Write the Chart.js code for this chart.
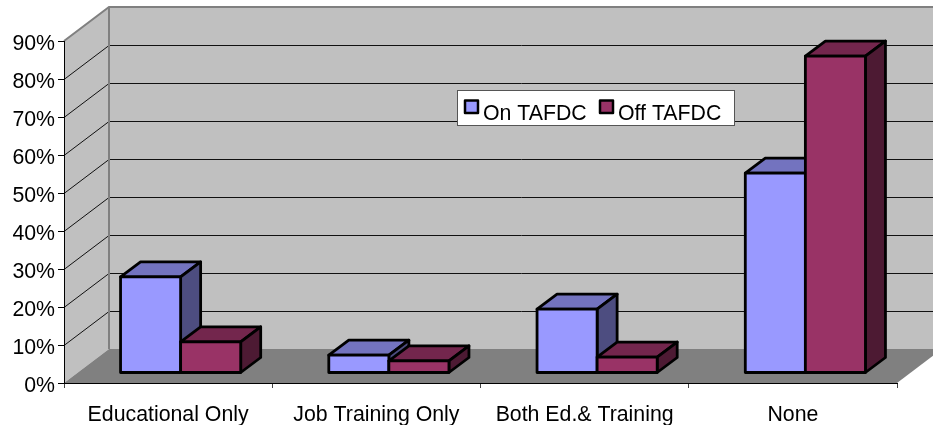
<!DOCTYPE html>
<html>
<head>
<meta charset="utf-8">
<style>
  html, body { margin: 0; background: #fff; }
  canvas { display: block; }
</style>
<script src="https://cdn.jsdelivr.net/npm/chart.js@4"></script>
</head>
<body>
<canvas id="myChart" width="933" height="425"></canvas>
<script>
const categories = ['Educational Only', 'Job Training Only', 'Both Ed.& Training', 'None'];
const onTafdc = [25.3, 4.7, 16.8, 52.6];
const offTafdc = [8.2, 3.2, 4.2, 83.4];
const yTickLabels = ['0%', '10%', '20%', '30%', '40%', '50%', '60%', '70%', '80%', '90%'];

const fontName = '"Liberation Sans", Arial, sans-serif';
const fontSize = 21.3;
// depth of the 3d box: wall offset, bar position in it, bar depth
const wallDx = 45, wallDy = -34;
const barDx = 12.5, barDy = -10;
const depthDx = 20, depthDy = -15;

function poly(ctx, pts, fill, stroke) {
    ctx.beginPath();
    pts.forEach(function(p, i) {
        if (i == 0) ctx.moveTo(p[0], p[1]);
        else ctx.lineTo(p[0], p[1]);
    });
    ctx.closePath();
    if (fill) { ctx.fillStyle = fill; ctx.fill(); }
    if (stroke) { ctx.strokeStyle = stroke; ctx.stroke(); }
}

const wallsPlugin = {
    id: 'walls',
    beforeDraw(chart) {
        const ctx = chart.ctx, y = chart.scales.y;
        const a = chart.chartArea;
        const base = y.getPixelForValue(0), top = y.getPixelForValue(90);
        ctx.save();
        poly(ctx, [[a.left + wallDx, top + wallDy], [a.right + wallDx, top + wallDy],
                   [a.right + wallDx, base + wallDy], [a.left + wallDx, base + wallDy]], '#c0c0c0');
        poly(ctx, [[a.left, top], [a.left + wallDx, top + wallDy],
                   [a.left + wallDx, base + wallDy], [a.left, base]], '#c0c0c0');
        poly(ctx, [[a.left, base], [a.left + wallDx, base + wallDy],
                   [a.right + wallDx, base + wallDy], [a.right, base]], '#808080');
        // gridlines run along side wall then back wall
        ctx.lineWidth = 1;
        ctx.strokeStyle = '#111';
        yTickLabels.forEach(function(t, i) {
            if (i == 0 || i == yTickLabels.length - 1) return;
            const py = y.getPixelForValue(i * 10) + 0.5;
            ctx.beginPath();
            ctx.moveTo(a.left, py);
            ctx.lineTo(a.left + wallDx, py + wallDy);
            ctx.lineTo(a.right + wallDx, py + wallDy);
            ctx.stroke();
        });
        // gray frame
        ctx.lineWidth = 2;
        ctx.strokeStyle = '#808080';
        ctx.beginPath();
        ctx.moveTo(a.left, top);
        ctx.lineTo(a.left + wallDx, top + wallDy);
        ctx.lineTo(a.right + wallDx, top + wallDy);
        ctx.moveTo(a.left + wallDx, top + wallDy);
        ctx.lineTo(a.left + wallDx, base + wallDy);
        ctx.stroke();
        ctx.restore();
    }
};

// first series has to be painted first so the second one covers its side
const boxPlugin = {
    id: 'box',
    beforeDatasetsDraw(chart) {
        const ctx = chart.ctx;
        chart.data.datasets.forEach(function(ds, i) {
            const meta = chart.getDatasetMeta(i);
            ctx.save();
            ctx.translate(barDx, barDy);
            ctx.lineWidth = 2.8;
            ctx.lineJoin = 'round';
            meta.data.forEach(function(bar) {
                const l = bar.x - bar.width / 2, r = bar.x + bar.width / 2;
                poly(ctx, [[l, bar.y], [l + depthDx, bar.y + depthDy], [r + depthDx, bar.y + depthDy], [r, bar.y]], ds.topColor, '#000');
                poly(ctx, [[r, bar.y], [r + depthDx, bar.y + depthDy], [r + depthDx, bar.base + depthDy], [r, bar.base]], ds.sideColor, '#000');
            });
            meta.controller.draw();
            ctx.strokeStyle = '#000';
            meta.data.forEach(function(bar) {
                ctx.strokeRect(bar.x - bar.width / 2, bar.y, bar.width, bar.base - bar.y);
            });
            ctx.restore();
        });
        return false;
    }
};

const legendPlugin = {
    id: 'boxLegend',
    afterDraw(chart) {
        const ctx = chart.ctx;
        ctx.save();
        ctx.fillStyle = '#fff';
        ctx.fillRect(457.5, 90.5, 277, 35);
        ctx.lineWidth = 1;
        ctx.strokeStyle = '#555';
        ctx.strokeRect(457.5, 90.5, 277, 35);
        ctx.font = fontSize + 'px ' + fontName;
        ctx.textBaseline = 'alphabetic';
        const swatchX = [465, 600], textX = [483, 618];
        chart.data.datasets.forEach(function(ds, i) {
            ctx.fillStyle = ds.backgroundColor;
            ctx.lineWidth = 2.5;
            ctx.lineJoin = 'round';
            ctx.strokeStyle = '#000';
            ctx.fillRect(swatchX[i], 100.5, 13, 12.5);
            ctx.strokeRect(swatchX[i], 100.5, 13, 12.5);
            ctx.fillStyle = '#000';
            ctx.fillText(ds.label, textX[i], 120);
        });
        ctx.restore();
    }
};

new Chart(document.getElementById('myChart').getContext('2d'), {
    type: 'bar',
    data: {
        labels: categories,
        datasets: [
            { label: 'On TAFDC', data: onTafdc, backgroundColor: '#9999ff', topColor: '#7373bf', sideColor: '#4d4d80' },
            { label: 'Off TAFDC', data: offTafdc, backgroundColor: '#993366', topColor: '#73264d', sideColor: '#4d1a33' }
        ]
    },
    options: {
        responsive: false,
        animation: false,
        layout: { padding: { left: 0, right: 36, top: 41, bottom: 0 } },
        plugins: { legend: { display: false }, tooltip: { enabled: false } },
        datasets: { bar: { barPercentage: 1, categoryPercentage: 120 / 208, borderWidth: 0 } },
        scales: {
            x: {
                afterFit(scale) { scale.height = 42; },
                grid: { drawOnChartArea: false, tickLength: 5, tickColor: '#444' },
                border: { color: '#000', width: 1 },
                ticks: { color: '#000', padding: 14, font: { family: fontName, size: fontSize }, maxRotation: 0 }
            },
            y: {
                min: 0,
                max: 90,
                afterFit(scale) { scale.width = 64; },
                grid: { drawOnChartArea: false, tickLength: 6, tickColor: '#000' },
                border: { color: '#000', width: 1 },
                ticks: {
                    stepSize: 10,
                    color: '#000',
                    padding: 3,
                    labelOffset: 3,
                    font: { family: fontName, size: fontSize },
                    callback: function(v) { return yTickLabels[v / 10]; }
                }
            }
        }
    },
    plugins: [wallsPlugin, boxPlugin, legendPlugin]
});
</script>
</body>
</html>
